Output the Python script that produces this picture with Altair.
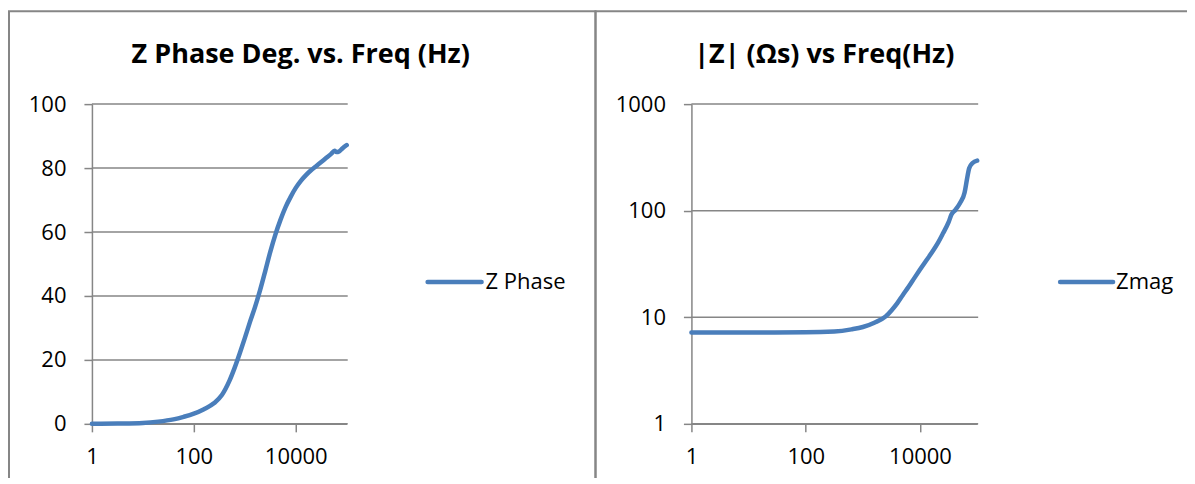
import altair as alt
import pandas as pd

# ---------------- data ----------------
phase_freq = [1, 3.16, 10, 20, 39.8, 63.1, 100, 158, 251, 355, 501, 631, 794,
              1000, 1259, 1585, 1995, 2512, 3162, 3981, 5012, 6310, 7943,
              10000, 12589, 15849, 19953, 25119, 31623, 39811, 50119, 57544,
              63096, 70795, 83176, 100000]
phase_deg = [0.0, 0.1, 0.3, 0.7, 1.4, 2.2, 3.2, 4.6, 6.5, 9.0, 13.5, 17.5, 22.0,
             26.8, 31.8, 36.5, 41.8, 47.7, 53.8, 59.2, 63.8, 67.8, 71.0,
             73.8, 76.0, 77.8, 79.3, 80.6, 81.9, 83.2, 84.5, 85.4,
             85.0, 85.2, 86.2, 87.2]

zmag_freq = [1, 10, 100, 316, 631, 1000, 1585, 2512, 3162, 3981, 5012, 6310,
             7943, 10000, 12589, 15849, 19953, 25119, 31623, 35481, 41687,
             50119, 60256, 66069, 72444, 83176, 100000]
zmag_ohm = [7.2, 7.2, 7.22, 7.35, 7.7, 8.1, 8.9, 10.2, 11.6, 13.5, 16.2, 19.3,
            23.3, 28.0, 33.5, 40.0, 48.5, 61.0, 78.0, 92.0, 102.0,
            118.0, 148.0, 195.0, 250.0, 280.0, 295.0]

x_ticks = [1, 100, 10000]
phase_ticks = [0, 20, 40, 60, 80, 100]
zmag_ticks = [1, 10, 100, 1000]
titles = ["Z Phase Deg. vs. Freq (Hz)", "|Z| (\u03a9s) vs Freq(Hz)"]
series_names = ["Z Phase", "Zmag"]

# ---------------- styling / layout ----------------
W, H = 1180, 470
GRAY = "#868686"
BLUE = "#4A7EBB"
FONT = "Open Sans"
LFS = 22

Y0, Y1 = 416, 96            # pixel rows of axis bottom / top
LX = [84, 339]              # left plot x range
RX = [684, 970]             # right plot x range

xl = alt.Scale(type="log", domain=[1, 100000], range=LX, nice=False)
xr = alt.Scale(type="log", domain=[1, 100000], range=RX, nice=False)
yl = alt.Scale(type="linear", domain=[0, 100], range=[Y0, Y1], nice=False, zero=False)
yr = alt.Scale(type="log", domain=[1, 1000], range=[Y0, Y1], nice=False)


def x_axis():
    return alt.Axis(orient="bottom", offset=Y0 - H, values=x_ticks, format="d",
                    grid=False, tickSize=8, tickWidth=1.5, tickColor=GRAY,
                    domainColor=GRAY, domainWidth=1.5, labelFont=FONT,
                    labelFontSize=LFS, labelColor="black", labelPadding=15,
                    labelFlush=False, labelOverlap=False, title=None)


def y_axis(xpos, ticks):
    return alt.Axis(orient="left", offset=-xpos, values=ticks, format="d",
                    grid=False, tickSize=8, tickWidth=1.5, tickColor=GRAY,
                    domainColor=GRAY, domainWidth=1.5, labelFont=FONT,
                    labelFontSize=LFS, labelColor="black", labelPadding=18,
                    labelOverlap=False, title=None)


one = pd.DataFrame({"k": [0]})

frame_left = alt.Chart(one).mark_rect(fill="transparent", stroke=GRAY, strokeWidth=2).encode(
    x=alt.value(1), x2=alt.value(588), y=alt.value(3), y2=alt.value(H + 40))
frame_right = alt.Chart(one).mark_rect(fill="transparent", stroke=GRAY, strokeWidth=2).encode(
    x=alt.value(588), x2=alt.value(W + 40), y=alt.value(3), y2=alt.value(H + 40))

grid_left = alt.Chart(pd.DataFrame({"v": phase_ticks})).mark_rule(
    color=GRAY, strokeWidth=1.5).encode(
    y=alt.Y("v:Q", scale=yl, axis=None), x=alt.value(LX[0]), x2=alt.value(LX[1] + 1))
grid_right = alt.Chart(pd.DataFrame({"v": zmag_ticks})).mark_rule(
    color=GRAY, strokeWidth=1.5).encode(
    y=alt.Y("v:Q", scale=yr, axis=None), x=alt.value(RX[0]), x2=alt.value(RX[1] + 1))

phase_df = pd.DataFrame({"f": phase_freq, "v": phase_deg})
zmag_df = pd.DataFrame({"f": zmag_freq, "v": zmag_ohm})

line_left = alt.Chart(phase_df).mark_line(
    color=BLUE, strokeWidth=4.5, strokeCap="round", strokeJoin="round", interpolate="monotone").encode(
    x=alt.X("f:Q", scale=xl, axis=x_axis()),
    y=alt.Y("v:Q", scale=yl, axis=y_axis(LX[0], phase_ticks)))
line_right = alt.Chart(zmag_df).mark_line(
    color=BLUE, strokeWidth=4.5, strokeCap="round", strokeJoin="round", interpolate="monotone").encode(
    x=alt.X("f:Q", scale=xr, axis=x_axis()),
    y=alt.Y("v:Q", scale=yr, axis=y_axis(RX[0], zmag_ticks)))

leg_line_l = alt.Chart(one).mark_rule(color=BLUE, strokeWidth=4.5, strokeCap="round").encode(
    x=alt.value(420), x2=alt.value(474), y=alt.value(274))
leg_text_l = alt.Chart(one).mark_text(align="left", baseline="middle", font=FONT,
                                      fontSize=LFS, color="black").encode(
    x=alt.value(478), y=alt.value(274), text=alt.value(series_names[0]))
leg_line_r = alt.Chart(one).mark_rule(color=BLUE, strokeWidth=4.5, strokeCap="round").encode(
    x=alt.value(1053), x2=alt.value(1106), y=alt.value(274))
leg_text_r = alt.Chart(one).mark_text(align="left", baseline="middle", font=FONT,
                                      fontSize=LFS, color="black").encode(
    x=alt.value(1109), y=alt.value(274), text=alt.value(series_names[1]))

title_l = alt.Chart(one).mark_text(align="center", baseline="middle", font=FONT,
                                   fontSize=27, fontWeight="bold", color="black").encode(
    x=alt.value(293), y=alt.value(47), text=alt.value(titles[0]))
title_r = alt.Chart(one).mark_text(align="center", baseline="middle", font=FONT,
                                   fontSize=27, fontWeight="bold", color="black").encode(
    x=alt.value(817), y=alt.value(47), text=alt.value(titles[1]))

chart = alt.layer(
    frame_left, frame_right, grid_left, grid_right, line_left, line_right,
    leg_line_l, leg_text_l, leg_line_r, leg_text_r, title_l, title_r
).resolve_scale(x="independent", y="independent").properties(
    width=W, height=H, padding=0, autosize=alt.AutoSizeParams(type="none")
).configure_view(strokeWidth=0)

chart.save("out.html", embed_options={"renderer": "svg", "actions": False})
